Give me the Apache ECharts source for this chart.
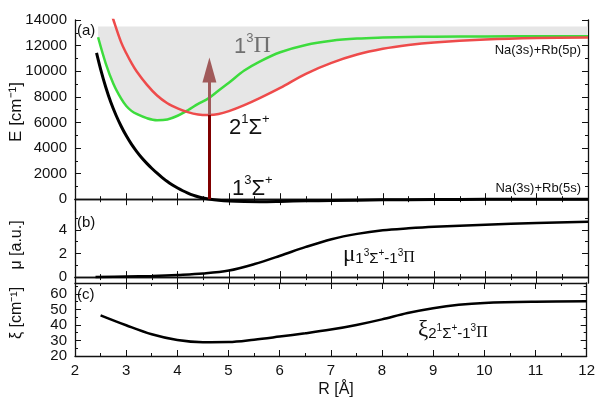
<!DOCTYPE html>
<html>
<head>
<meta charset="utf-8">
<script src="https://cdn.jsdelivr.net/npm/echarts@6/dist/echarts.min.js"></script>
<style>
html, body { margin: 0; padding: 0; background: #fff; }
#chart { width: 598px; height: 400px; }
</style>
</head>
<body>
<div id="chart"></div>
<script>
// R grid [Å] shared by the two excited states
const rExc = [2.45, 2.6, 2.75, 2.9, 3.0, 3.1, 3.2, 3.4, 3.6, 3.8, 4.0, 4.2, 4.4, 4.6, 4.8, 5.0, 5.3, 5.6, 6.0, 6.5, 7.0, 7.5, 8.0, 8.5, 9.0, 10, 11, 12];
// 1^3Pi (green), cm^-1
const ePi = [12650, 10600, 9000, 7850, 7280, 6900, 6660, 6330, 6170, 6230, 6520, 6950, 7450, 7880, 8500, 9100, 10050, 10750, 11480, 12050, 12380, 12550, 12630, 12680, 12700, 12720, 12730, 12730];
// 2^1Sigma+ (red), cm^-1 (above 14000 it is off the chart)
const eSig2 = [18000, 15900, 14000, 12250, 11400, 10650, 10000, 8950, 8100, 7500, 7100, 6800, 6620, 6580, 6650, 6880, 7350, 7900, 8700, 9800, 10650, 11300, 11750, 12050, 12250, 12480, 12600, 12640];
// 1^3Sigma+ (black), cm^-1
const rGround = [2.42, 2.5, 2.6, 2.7, 2.8, 2.9, 3.0, 3.1, 3.2, 3.3, 3.4, 3.5, 3.6, 3.7, 3.8, 3.9, 4.0, 4.1, 4.2, 4.3, 4.4, 4.5, 4.6, 4.8, 5.0, 5.3, 5.6, 6.0, 6.5, 7.0, 8.0, 9.0, 10, 12];
const eSig1 = [11430, 10150, 8750, 7550, 6560, 5700, 4950, 4300, 3740, 3240, 2800, 2400, 2030, 1690, 1380, 1110, 870, 660, 480, 320, 190, 90, 20, -80, -140, -180, -190, -170, -130, -100, -50, -25, -10, 0];
// transition dipole moment, a.u.
const rMu = [2.4, 3.0, 3.5, 4.0, 4.5, 5.0, 5.5, 6.0, 6.5, 7.0, 7.5, 8.0, 8.5, 9.0, 10, 11, 12];
const mu = [0, 0.05, 0.1, 0.18, 0.3, 0.55, 1.1, 1.8, 2.55, 3.2, 3.65, 3.95, 4.12, 4.25, 4.43, 4.57, 4.67];
// spin-orbit coupling, cm^-1
const rXi = [2.5, 3.0, 3.5, 4.0, 4.5, 5.0, 5.5, 6.0, 6.5, 7.0, 7.5, 8.0, 8.5, 9.0, 9.5, 10, 11, 12];
const xi = [46.2, 39.8, 34.0, 30.3, 28.9, 29.0, 30.5, 32.5, 34.6, 37.0, 40.0, 43.6, 47.7, 50.8, 53.0, 54.2, 55.0, 55.3];

// tick labels
const eTicks = [0, 2000, 4000, 6000, 8000, 10000, 12000, 14000];
const eMinor = [1000, 3000, 5000, 7000, 9000, 11000, 13000];
const muTicks = [0, 2, 4];
const muMinor = [1, 3, 5];
const xiTicks = [20, 30, 40, 50, 60];
const xiMinor = [25, 35, 45, 55, 65];

const shadeTop = 13500;
const arrowR = 4.62;
const arrowLow = [0, 6600];
const arrowHigh = [6600, 10100];

const zip = (xs, ys) => xs.map((x, i) => [x, ys[i]]);
// lower edge of the grey band = the lower of the two excited curves
const envelope = rExc.map((r, i) => Math.min(ePi[i], eSig2[i]));

const FONT = 'Liberation Sans, Arial, sans-serif';
const SERIF = 'Liberation Serif, Times New Roman, serif';
const SMOOTH = 0.35;
const axisLine = { show: true, lineStyle: { color: '#111', width: 1.3 } };

const grids = [
  { left: 75, top: 20, width: 513, height: 192 },
  { left: 75, top: 212, width: 513, height: 71 },
  { left: 75, top: 283, width: 513, height: 73 }
];

function xAxes(gi, labels) {
  const base = {
    type: 'value', gridIndex: gi, min: 2, max: 12, interval: 1,
    axisLine: axisLine, splitLine: { show: false },
    axisTick: { inside: true, length: 6, lineStyle: { color: '#111' } },
    minorTick: { show: true, splitNumber: 2, length: 3, lineStyle: { color: '#111' } }
  };
  return [
    Object.assign({}, base, { position: 'bottom',
      axisLabel: { show: labels, color: '#111', fontSize: 15, fontFamily: FONT, margin: 7 } }),
    Object.assign({}, base, { position: 'top', axisLabel: { show: false } })
  ];
}

function yAxes(gi, min, max, major, minor) {
  const base = { type: 'value', gridIndex: gi, min: min, max: max, splitLine: { show: false } };
  const out = [];
  ['left', 'right'].forEach(pos => {
    out.push(Object.assign({}, base, {
      position: pos, axisLine: axisLine,
      axisTick: { inside: true, length: 6, customValues: major, lineStyle: { color: '#111' } },
      axisLabel: { show: pos === 'left', customValues: major, formatter: v => String(v),
        color: '#111', fontSize: 15, fontFamily: FONT, margin: 8 }
    }));
    out.push(Object.assign({}, base, {
      position: pos, axisLine: { show: false },
      axisTick: { inside: true, length: 3, customValues: minor, lineStyle: { color: '#111' } },
      axisLabel: { show: false }
    }));
  });
  return out;
}

const chart = echarts.init(document.getElementById('chart'), null, { renderer: 'canvas' });

const line = (name, xi_, yi_, data, color, width, z) => ({
  name: name, type: 'line', xAxisIndex: xi_, yAxisIndex: yi_, data: data,
  smooth: SMOOTH, symbol: 'none', z: z || 3,
  lineStyle: { color: color, width: width }, emphasis: { disabled: true }
});

function txt(x, y, text, rich) {
  return {
    type: 'text', x: x, y: y, z: 100,
    style: { text: text, rich: rich, fill: '#111', font: '15px ' + FONT, textVerticalAlign: 'middle' }
  };
}

const richState = (color) => ({
  n: { fontSize: 22, fontFamily: FONT, fill: color, lineHeight: 26, verticalAlign: 'bottom' },
  s: { fontSize: 13, fontFamily: FONT, fill: color, lineHeight: 26, verticalAlign: 'top' },
  p: { fontSize: 24, fontFamily: SERIF, fill: color, lineHeight: 26, verticalAlign: 'bottom' }
});
const richSub = {
  m: { fontSize: 23, fontFamily: SERIF, fill: '#111', lineHeight: 26, verticalAlign: 'bottom' },
  b: { fontSize: 15, fontFamily: FONT, fill: '#111', lineHeight: 15, verticalAlign: 'bottom' },
  bs: { fontSize: 10, fontFamily: FONT, fill: '#111', lineHeight: 10, verticalAlign: 'bottom', padding: [0, 0, 8, 0] },
  bp: { fontSize: 16, fontFamily: SERIF, fill: '#111', lineHeight: 15, verticalAlign: 'bottom' }
};

const plain = (x, y, text, size, align) => ({
  type: 'text', x: x, y: y, z: 100,
  style: { text: text, fill: '#111', font: size + 'px ' + FONT, textAlign: align, textVerticalAlign: 'middle' }
});
const vertical = (x, y, text, size) => Object.assign(plain(x, y, text, size, 'center'), { rotation: Math.PI / 2 });

chart.setOption({
  animation: false,
  backgroundColor: '#fff',
  grid: grids,
  xAxis: [].concat(xAxes(0, false), xAxes(1, false), xAxes(2, true)),
  yAxis: [].concat(
    yAxes(0, -1000, 14000, eTicks, eMinor),
    yAxes(1, -0.5, 5.5, muTicks, muMinor),
    yAxes(2, 20, 67, xiTicks, xiMinor)
  ),
  series: [
    {
      // grey band between the excited curves and shadeTop
      type: 'custom', xAxisIndex: 0, yAxisIndex: 0, z: 1, silent: true,
      data: zip(rExc, envelope),
      renderItem: function (params, api) {
        if (params.dataIndex !== 0) return;
        const pts = rExc.map((r, i) => api.coord([r, envelope[i]]));
        pts.push(api.coord([rExc[rExc.length - 1], shadeTop]));
        pts.push(api.coord([rExc[0], shadeTop]));
        return { type: 'polygon', shape: { points: pts }, style: { fill: '#e6e6e6' } };
      }
    },
    line('1^3Pi', 0, 0, zip(rExc, ePi), '#3ddc3d', 2.5, 3),
    line('2^1Sigma+', 0, 0, zip(rExc, eSig2), '#ee4b4b', 2.5, 3),
    line('1^3Sigma+', 0, 0, zip(rGround, eSig1), '#000', 3, 4),
    {
      type: 'line', xAxisIndex: 0, yAxisIndex: 0, data: [], z: 5,
      markLine: {
        silent: true, animation: false, label: { show: false },
        lineStyle: { type: 'solid', width: 3 },
        data: [
          [{ coord: [arrowR, arrowLow[0]], symbol: 'none', lineStyle: { color: '#800000', width: 3, type: 'solid' } },
           { coord: [arrowR, arrowLow[1]], symbol: 'none' }],
          [{ coord: [arrowR, arrowHigh[0]], symbol: 'none', lineStyle: { color: '#a05a5a', width: 3, type: 'solid' } },
           { coord: [arrowR, arrowHigh[1]], symbol: 'triangle', symbolSize: [14, 25] }]
        ]
      }
    },
    line('mu', 2, 4, zip(rMu, mu), '#000', 2.5, 3),
    line('xi', 4, 8, zip(rXi, xi), '#000', 2.5, 3)
  ],
  graphic: [
    plain(77, 31, '(a)', 15, 'left'),
    plain(77, 223, '(b)', 15, 'left'),
    plain(77, 295, '(c)', 15, 'left'),
    txt(234, 45, '{n|1}{s|3}{p|Π}', richState('#707070')),
    txt(229, 126, '{n|2}{s|1}{n|Σ}{s|+}', richState('#111')),
    txt(232, 187, '{n|1}{s|3}{n|Σ}{s|+}', richState('#111')),
    plain(581, 50, 'Na(3s)+Rb(5p)', 13, 'right'),
    plain(581, 188, 'Na(3s)+Rb(5s)', 13, 'right'),
    txt(343, 253, '{m|μ}{b|1}{bs|3}{b|Σ}{bs|+}{b|-1}{bs|3}{bp|Π}', richSub),
    txt(418, 328, '{m|ξ}{b|2}{bs|1}{b|Σ}{bs|+}{b|-1}{bs|3}{bp|Π}', richSub),
    vertical(16, 112, 'E [cm⁻¹]', 17),
    vertical(17, 245, 'μ [a.u.]', 16),
    vertical(17, 313, 'ξ [cm⁻¹]', 16),
    plain(336, 390, 'R [Å]', 16, 'center')
  ]
});
</script>
</body>
</html>
